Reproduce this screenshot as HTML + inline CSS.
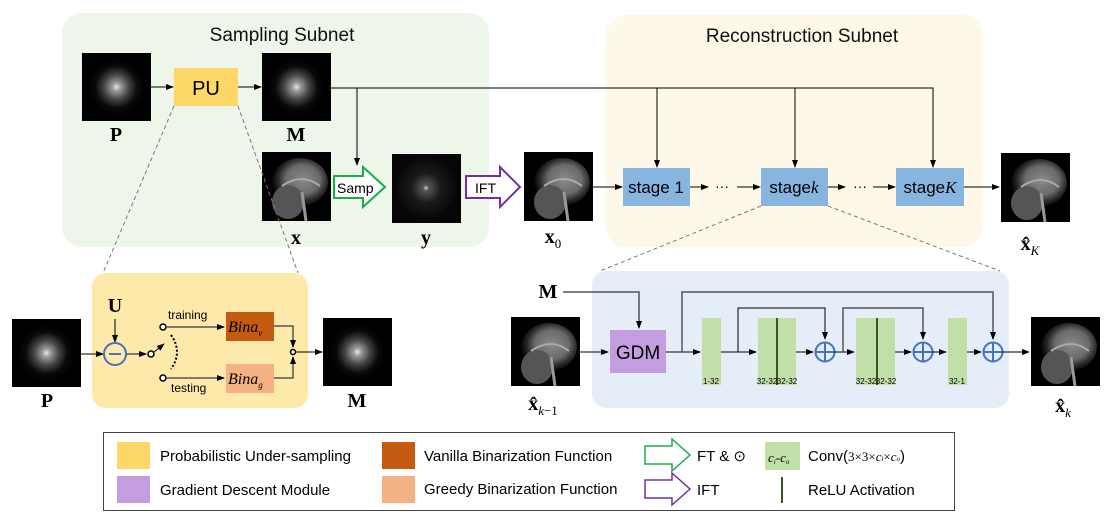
<!DOCTYPE html>
<html><head><meta charset="utf-8"><style>
html,body{margin:0;padding:0;background:#fff;}
svg{display:block;font-family:"Liberation Sans",sans-serif;}
</style></head><body>
<svg width="1107" height="522" viewBox="0 0 1107 522" xmlns="http://www.w3.org/2000/svg">
<defs>
<radialGradient id="ks" cx="50%" cy="50%" r="50%">
<stop offset="0" stop-color="#e8e8e8"/><stop offset="0.15" stop-color="#9a9a9a"/><stop offset="0.45" stop-color="#444"/><stop offset="0.75" stop-color="#0a0a0a"/><stop offset="1" stop-color="#000"/></radialGradient>
<radialGradient id="ks2" cx="50%" cy="50%" r="50%">
<stop offset="0" stop-color="#ccc"/><stop offset="0.1" stop-color="#555"/><stop offset="0.5" stop-color="#1a1a1a"/><stop offset="1" stop-color="#080808"/></radialGradient>
<radialGradient id="mri" cx="55%" cy="45%" r="55%">
<stop offset="0" stop-color="#8a8a8a"/><stop offset="0.55" stop-color="#6a6a6a"/><stop offset="0.8" stop-color="#2a2a2a"/><stop offset="1" stop-color="#050505"/></radialGradient>
<marker id="ah" markerWidth="8" markerHeight="8" refX="7" refY="4" orient="auto" markerUnits="userSpaceOnUse"><path d="M0,1 L8,4 L0,7 z" fill="#000"/></marker>
<g id="mr"><rect width="69" height="69" fill="#000"/><ellipse cx="38" cy="30" rx="28" ry="24" fill="url(#mri)"/><ellipse cx="26" cy="50" rx="16" ry="17" fill="#555"/><path d="M20,34 Q40,20 58,34" stroke="#aaa" fill="none" stroke-width="2"/><path d="M40,40 L44,69" stroke="#999" stroke-width="3"/></g>
<g id="kp"><rect width="69" height="68" fill="#000"/><circle cx="34.5" cy="34" r="28" fill="url(#ks)"/></g>
</defs>

<!-- panels -->
<rect x="62" y="13" width="427" height="234" rx="20" fill="#eef6e9"/>
<rect x="606" y="15" width="377" height="232" rx="20" fill="#fef8e9"/>
<rect x="92" y="273" width="216" height="135" rx="14" fill="#fde9a9"/>
<rect x="592" y="271" width="417" height="137" rx="14" fill="#e5eef8"/>
<text x="282" y="41" font-size="19" text-anchor="middle" fill="#111">Sampling Subnet</text>
<text x="802" y="42" font-size="19" text-anchor="middle" fill="#111">Reconstruction Subnet</text>

<!-- top row -->
<use href="#kp" x="82" y="53"/>
<text x="116" y="141" font-size="20" font-weight="bold" font-family="Liberation Serif,serif" text-anchor="middle">P</text>
<line x1="151" y1="87" x2="173" y2="87" stroke="#000" marker-end="url(#ah)"/>
<rect x="174" y="68" width="64" height="38" fill="#fdd767"/>
<text x="206" y="95" font-size="20" text-anchor="middle">PU</text>
<line x1="238" y1="87" x2="261" y2="87" stroke="#000" marker-end="url(#ah)"/>
<use href="#kp" x="262" y="53"/>
<text x="296" y="141" font-size="20" font-weight="bold" font-family="Liberation Serif,serif" text-anchor="middle">M</text>
<use href="#mr" x="262" y="152"/>
<text x="296" y="244" font-size="20" font-weight="bold" font-family="Liberation Serif,serif" text-anchor="middle">x</text>
<!-- M broadcast line -->
<polyline points="331,88 933,88 933,167" fill="none" stroke="#000" marker-end="url(#ah)"/>
<line x1="357" y1="88" x2="357" y2="165" stroke="#000" marker-end="url(#ah)"/>
<line x1="657" y1="88" x2="657" y2="167" stroke="#000" marker-end="url(#ah)"/>
<line x1="795" y1="88" x2="795" y2="167" stroke="#000" marker-end="url(#ah)"/>
<!-- Samp arrow -->
<path d="M334,176 L363,176 L363,167 L385,187 L363,207 L363,198 L334,198 z" fill="#fff" stroke="#1aad4a" stroke-width="2"/>
<text x="337" y="193" font-size="14">Samp</text>
<rect x="392" y="154" width="69" height="69" fill="#060606"/><circle cx="426" cy="188" r="30" fill="url(#ks2)"/>
<text x="426" y="244" font-size="20" font-weight="bold" font-family="Liberation Serif,serif" text-anchor="middle">y</text>
<path d="M466,176 L500,176 L500,167 L520,187 L500,207 L500,198 L466,198 z" fill="#fff" stroke="#7030a0" stroke-width="2"/>
<text x="475" y="193" font-size="14">IFT</text>
<use href="#mr" x="524" y="152"/>
<text x="553" y="243" font-size="20" font-weight="bold" font-family="Liberation Serif,serif" text-anchor="middle">x<tspan font-size="13" font-weight="normal" dy="5">0</tspan></text>
<line x1="593" y1="187" x2="622" y2="187" stroke="#000" marker-end="url(#ah)"/>
<rect x="623" y="168" width="67" height="38" fill="#87b5e0"/><text x="656" y="193" font-size="17" text-anchor="middle">stage 1</text>
<line x1="690" y1="187" x2="708" y2="187" stroke="#000" marker-end="url(#ah)"/><text x="722" y="191" font-size="14" text-anchor="middle">···</text>
<line x1="737" y1="187" x2="760" y2="187" stroke="#000" marker-end="url(#ah)"/>
<rect x="761" y="168" width="67" height="38" fill="#87b5e0"/><text x="794" y="193" font-size="17" text-anchor="middle">stage<tspan font-family="Liberation Serif,serif" font-style="italic">k</tspan></text>
<line x1="828" y1="187" x2="845" y2="187" stroke="#000" marker-end="url(#ah)"/><text x="860" y="191" font-size="14" text-anchor="middle">···</text>
<line x1="873" y1="187" x2="895" y2="187" stroke="#000" marker-end="url(#ah)"/>
<rect x="896" y="168" width="68" height="38" fill="#87b5e0"/><text x="930" y="193" font-size="17" text-anchor="middle">stage<tspan font-family="Liberation Serif,serif" font-style="italic">K</tspan></text>
<line x1="964" y1="187" x2="999" y2="187" stroke="#000" marker-end="url(#ah)"/>
<use href="#mr" x="1001" y="153"/>
<text x="1030" y="250" font-size="20" font-weight="bold" font-family="Liberation Serif,serif" text-anchor="middle">x̂<tspan font-size="13" font-weight="normal" font-style="italic" dy="5">K</tspan></text>

<!-- dashed zoom lines -->
<g stroke="#777" stroke-dasharray="4,3" fill="none">
<line x1="174" y1="106" x2="103" y2="273"/>
<line x1="238" y1="106" x2="298" y2="273"/>
<line x1="761" y1="206" x2="600" y2="271"/>
<line x1="828" y1="206" x2="1000" y2="271"/>
</g>

<!-- bottom left -->
<use href="#kp" x="12" y="319"/>
<text x="47" y="407" font-size="20" font-weight="bold" font-family="Liberation Serif,serif" text-anchor="middle">P</text>
<line x1="81" y1="354" x2="103" y2="354" stroke="#555" stroke-width="1.5" marker-end="url(#ah)"/>
<text x="115" y="312" font-size="20" font-weight="bold" font-family="Liberation Serif,serif" text-anchor="middle">U</text>
<line x1="115" y1="319" x2="115" y2="342" stroke="#000" marker-end="url(#ah)"/>
<circle cx="115" cy="354" r="11" fill="none" stroke="#4472c4" stroke-width="2"/><line x1="109" y1="354" x2="121" y2="354" stroke="#4472c4" stroke-width="2"/>
<line x1="126" y1="354" x2="146" y2="354" stroke="#555" stroke-width="1.5" marker-end="url(#ah)"/>
<circle cx="151" cy="354" r="3" fill="#fff" stroke="#000" stroke-width="1.5"/>
<line x1="154" y1="352" x2="164" y2="344" stroke="#000" marker-end="url(#ah)"/>
<path d="M171,335 Q183,352 171,369" fill="none" stroke="#000" stroke-width="2" stroke-dasharray="2,2"/>
<circle cx="163" cy="327" r="3" fill="#fff" stroke="#000" stroke-width="1.5"/>
<circle cx="163" cy="378" r="3" fill="#fff" stroke="#000" stroke-width="1.5"/>
<text x="168" y="319" font-size="12">training</text>
<text x="171" y="392" font-size="12">testing</text>
<line x1="166" y1="327" x2="224" y2="327" stroke="#555" stroke-width="1.5" marker-end="url(#ah)"/>
<line x1="166" y1="378" x2="224" y2="378" stroke="#555" stroke-width="1.5" marker-end="url(#ah)"/>
<rect x="226" y="312" width="48" height="29" fill="#c55a11"/>
<text x="228" y="332" font-size="16" font-style="italic" font-family="Liberation Serif,serif">Bina<tspan font-size="9" dy="4">v</tspan></text>
<rect x="226" y="364" width="48" height="29" fill="#f4b183"/>
<text x="228" y="384" font-size="16" font-style="italic" font-family="Liberation Serif,serif">Bina<tspan font-size="9" dy="4">g</tspan></text>
<polyline points="274,326 293,326 293,347" fill="none" stroke="#555" stroke-width="1.5" marker-end="url(#ah)"/>
<polyline points="274,378 293,378 293,357" fill="none" stroke="#555" stroke-width="1.5" marker-end="url(#ah)"/>
<circle cx="293" cy="352" r="2.5" fill="#fff" stroke="#000" stroke-width="1.5"/>
<line x1="296" y1="352" x2="322" y2="352" stroke="#000" marker-end="url(#ah)"/>
<use href="#kp" x="323" y="318"/>
<text x="357" y="407" font-size="20" font-weight="bold" font-family="Liberation Serif,serif" text-anchor="middle">M</text>

<!-- bottom right -->
<text x="548" y="298" font-size="20" font-weight="bold" font-family="Liberation Serif,serif" text-anchor="middle">M</text>
<polyline points="563,292 639,292 639,328" fill="none" stroke="#555" stroke-width="1.5" marker-end="url(#ah)"/>
<use href="#mr" x="511" y="317"/>
<text x="543" y="410" font-size="20" font-weight="bold" font-family="Liberation Serif,serif" text-anchor="middle">x̂<tspan font-size="13" font-weight="normal" dy="5"><tspan font-style="italic">k</tspan>−1</tspan></text>
<line x1="580" y1="352" x2="608" y2="352" stroke="#000" marker-end="url(#ah)"/>
<rect x="610" y="330" width="56" height="43" fill="#c39de0"/>
<text x="638" y="359" font-size="19" text-anchor="middle">GDM</text>
<line x1="666" y1="352" x2="700" y2="352" stroke="#555" stroke-width="1.5" marker-end="url(#ah)"/>
<polyline points="682,352 682,292 993,292 993,339" fill="none" stroke="#555" stroke-width="1.5" marker-end="url(#ah)"/>
<rect x="702" y="318" width="19" height="67" fill="#c1dfa9"/>
<text x="711" y="384" font-size="8" text-anchor="middle">1-32</text>
<line x1="721" y1="352" x2="756" y2="352" stroke="#555" stroke-width="1.5" marker-end="url(#ah)"/>
<polyline points="738,352 738,308 825,308 825,339" fill="none" stroke="#000" marker-end="url(#ah)"/>
<rect x="758" y="318" width="38" height="67" fill="#c1dfa9"/><rect x="776" y="318" width="2" height="67" fill="#375623"/>
<text x="767" y="384" font-size="8" text-anchor="middle">32-32</text><text x="787" y="384" font-size="8" text-anchor="middle">32-32</text>
<line x1="796" y1="352" x2="813" y2="352" stroke="#000" marker-end="url(#ah)"/>
<circle cx="825" cy="352" r="9.5" fill="none" stroke="#4472c4" stroke-width="2"/><path d="M815.5,352 H834.5 M825,342.5 V361.5" stroke="#4472c4" stroke-width="2"/>
<line x1="834" y1="352" x2="854" y2="352" stroke="#000" marker-end="url(#ah)"/>
<polyline points="843,352 843,308 923,308 923,339" fill="none" stroke="#555" stroke-width="1.5" marker-end="url(#ah)"/>
<rect x="856" y="318" width="39" height="67" fill="#c1dfa9"/><rect x="876" y="318" width="2" height="67" fill="#375623"/>
<text x="866" y="384" font-size="8" text-anchor="middle">32-32</text><text x="886" y="384" font-size="8" text-anchor="middle">32-32</text>
<line x1="895" y1="352" x2="911" y2="352" stroke="#555" stroke-width="1.5" marker-end="url(#ah)"/>
<circle cx="923" cy="352" r="9.5" fill="none" stroke="#4472c4" stroke-width="2"/><path d="M913.5,352 H932.5 M923,342.5 V361.5" stroke="#4472c4" stroke-width="2"/>
<line x1="932" y1="352" x2="946" y2="352" stroke="#000" marker-end="url(#ah)"/>
<rect x="948" y="318" width="19" height="67" fill="#c1dfa9"/>
<text x="957" y="384" font-size="8" text-anchor="middle">32-1</text>
<line x1="967" y1="352" x2="981" y2="352" stroke="#000" marker-end="url(#ah)"/>
<circle cx="993" cy="352" r="9.5" fill="none" stroke="#4472c4" stroke-width="2"/><path d="M983.5,352 H1002.5 M993,342.5 V361.5" stroke="#4472c4" stroke-width="2"/>
<line x1="1002" y1="352" x2="1029" y2="352" stroke="#000" marker-end="url(#ah)"/>
<use href="#mr" x="1031" y="317"/>
<text x="1063" y="412" font-size="20" font-weight="bold" font-family="Liberation Serif,serif" text-anchor="middle">x̂<tspan font-size="13" font-weight="normal" font-style="italic" dy="5">k</tspan></text>

<!-- legend -->
<rect x="103.5" y="432.5" width="851" height="78" fill="#fff" stroke="#444"/>
<rect x="117" y="442" width="33" height="27" fill="#fdd767"/>
<text x="160" y="461" font-size="15">Probabilistic Under-sampling</text>
<rect x="382" y="442" width="33" height="27" fill="#c55a11"/>
<text x="424" y="461" font-size="15">Vanilla Binarization Function</text>
<path d="M645,446 L672,446 L672,439 L690,455 L672,471 L672,464 L645,464 z" fill="#fff" stroke="#1aad4a" stroke-width="1.5"/>
<text x="697" y="461" font-size="15">FT &amp; ⊙</text>
<rect x="765" y="442" width="35" height="28" fill="#c1dfa9"/>
<text x="768" y="462" font-size="13" font-style="italic" font-family="Liberation Serif,serif">c<tspan font-size="7" dy="2">i</tspan><tspan dy="-2">-c</tspan><tspan font-size="7" dy="2">o</tspan></text>
<text x="808" y="461" font-size="15">Conv(<tspan font-family="Liberation Serif,serif" font-size="13">3×3×<tspan font-style="italic">c</tspan><tspan font-size="7" font-style="italic">i</tspan>×<tspan font-style="italic">c</tspan><tspan font-size="7" font-style="italic">o</tspan></tspan>)</text>
<rect x="117" y="476" width="33" height="27" fill="#c39de0"/>
<text x="160" y="495" font-size="15">Gradient Descent Module</text>
<rect x="382" y="476" width="33" height="27" fill="#f4b183"/>
<text x="424" y="494" font-size="15">Greedy Binarization Function</text>
<path d="M645,480 L672,480 L672,473 L690,489 L672,505 L672,498 L645,498 z" fill="#fff" stroke="#7030a0" stroke-width="1.5"/>
<text x="697" y="495" font-size="15">IFT</text>
<rect x="781" y="477" width="2" height="26" fill="#375623"/>
<text x="808" y="495" font-size="15">ReLU Activation</text>
</svg>
</body></html>
